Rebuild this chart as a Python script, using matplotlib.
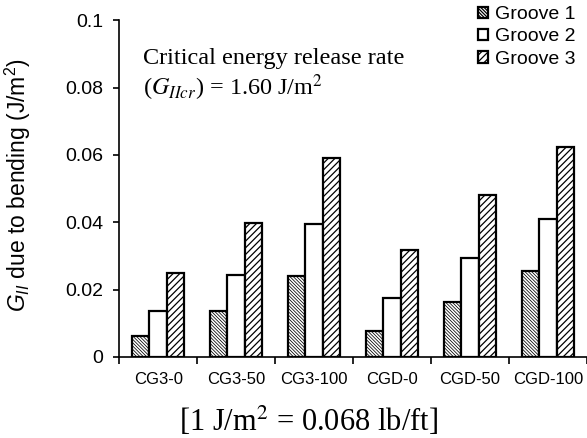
import matplotlib.pyplot as plt
import numpy as np

categories = ["CG3-0", "CG3-50", "CG3-100", "CGD-0", "CGD-50", "CGD-100"]
groove1 = [0.0062, 0.0135, 0.0240, 0.0078, 0.0163, 0.0255]
groove2 = [0.0137, 0.0243, 0.0394, 0.0175, 0.0294, 0.0410]
groove3 = [0.0250, 0.0397, 0.0590, 0.0317, 0.0480, 0.0622]
series_names = ["Groove 1", "Groove 2", "Groove 3"]

plt.rcParams['font.family'] = ['Liberation Sans', 'DejaVu Sans']
plt.rcParams['mathtext.fontset'] = 'custom'
plt.rcParams['mathtext.rm'] = 'Liberation Sans'
plt.rcParams['mathtext.it'] = 'Liberation Sans:italic'
plt.rcParams['hatch.linewidth'] = 0.9

fig = plt.figure(figsize=(5.87, 4.38), dpi=100)
ax = fig.add_axes([0.203, 0.185, 0.797, 0.769])

x = np.arange(len(categories))
w = 0.223
hatches = ['\\' * 10, '', '/////']
hatch_lw = [0.55, 0.9, 0.9]
for i, vals in enumerate([groove1, groove2, groove3]):
    bars = ax.bar(x + (i - 1) * w, vals, width=w, color='white', edgecolor='black',
                  linewidth=1.6, hatch=hatches[i], label=series_names[i])
    for b in bars:
        if hasattr(b, 'set_hatch_linewidth'):
            b.set_hatch_linewidth(hatch_lw[i])

ax.set_xlim(-0.5, len(categories) - 0.5)
ax.set_ylim(0, 0.1)
ax.set_yticks([0, 0.02, 0.04, 0.06, 0.08, 0.1])
ax.set_yticklabels(["0", "0.02", "0.04", "0.06", "0.08", "0.1"], fontsize=14)
ax.set_xticks(np.arange(len(categories) + 1) - 0.5)
ax.set_xticklabels([])
ax.set_xticks(x, minor=True)
ax.set_xticklabels(categories, minor=True, fontsize=12)
ax.tick_params(axis='x', which='minor', length=0, pad=11)
ax.tick_params(axis='x', which='major', length=5, width=1.2, direction='out')
ax.tick_params(axis='y', length=4.5, width=1.2, direction='out', pad=7)
ax.spines['top'].set_visible(False)
ax.spines['right'].set_visible(False)
ax.spines['left'].set_linewidth(1.2)
ax.spines['bottom'].set_linewidth(1.2)

ax.set_ylabel("$G_{II}$ due to bending (J/m$^2$)", fontsize=16.5)
ax.yaxis.set_label_coords(-0.184, 0.51)

ax.legend(loc='upper left', bbox_to_anchor=(478 / 587, 1 - 6 / 438), bbox_transform=fig.transFigure,
          frameon=False, fontsize=14, handlelength=0.5, handleheight=0.5,
          handletextpad=0.35, labelspacing=0.28, borderaxespad=0, borderpad=0)

fig.text(143 / 587, 1 - 64 / 438, "Critical energy release rate", family='Liberation Serif',
         fontsize=17.5, va='baseline')
fig.text(143 / 587, 1 - 95 / 438, "($G_{IIcr}$) = 1.60 J/m$^2$", family='Liberation Serif',
         fontsize=17.5, va='baseline', math_fontfamily='stix')

fig.text(309 / 587, 1 - 431 / 438, "[1 J/m$^2$ = 0.068 lb/ft]", family='Liberation Serif',
         fontsize=22, ha='center', va='baseline', math_fontfamily='stix')

fig.savefig("out.png", dpi=100)
